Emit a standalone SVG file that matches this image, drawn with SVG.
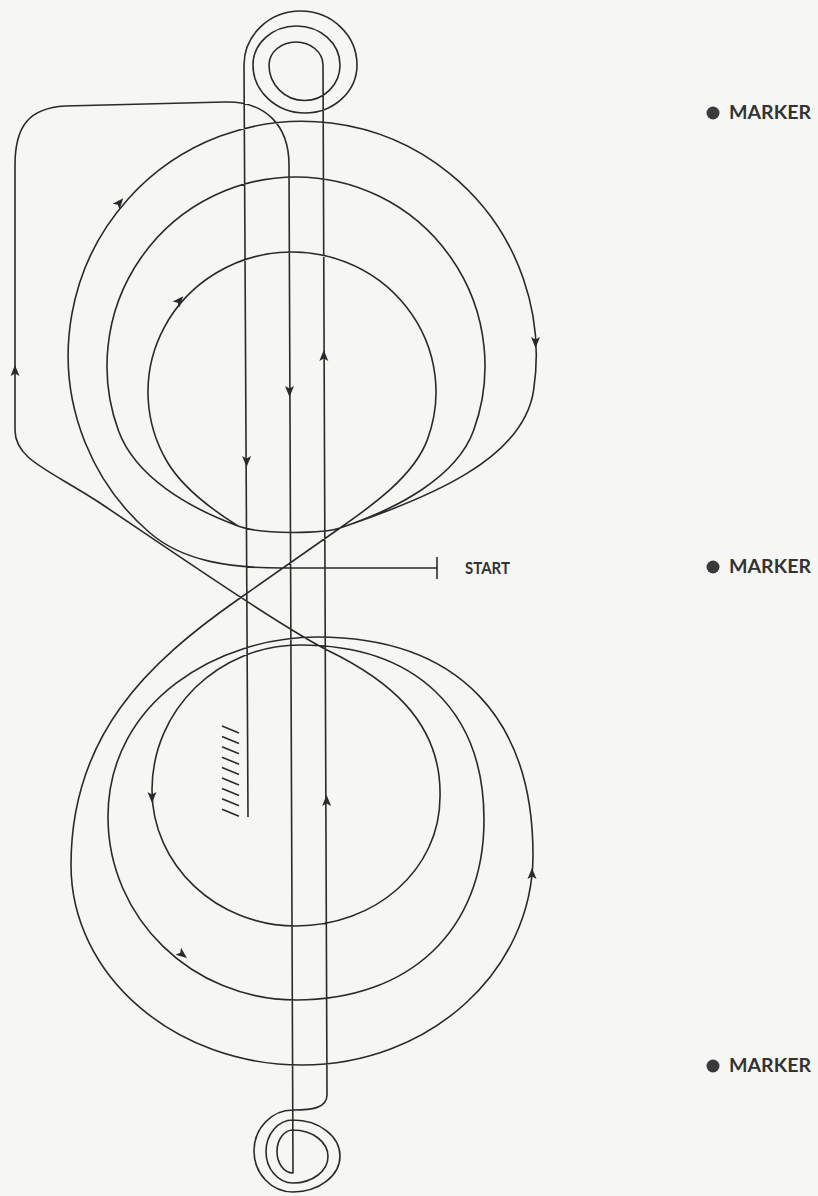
<svg xmlns="http://www.w3.org/2000/svg" xmlns:xlink="http://www.w3.org/1999/xlink" width="818" height="1196" viewBox="0 0 818 1196">
<style>
.trk{fill:none;stroke:#2a2a2a;stroke-width:1.6;stroke-linejoin:round;stroke-linecap:butt}
.lbl{font-family:Lato,"Liberation Sans",sans-serif;font-weight:bold;fill:#333}
.ah{fill:#2a2a2a}
.dot{fill:#3a3a3a}
</style>
<defs>
<path id="ah" d="M5,0 L-6,-4.5 L-3.5,0 L-6,4.5 Z"/>
</defs>
<rect width="818" height="1196" fill="#f6f6f4"/>
<g id="connectors">
<path id="track" class="trk" d="M 437 568 L 282 568 C 232 568 184 562 150 533 A 234 234 0 1 1 533.7 389.6 C 524 459 430 497.6 340 528 C 324 533.5 262 535 238 526 C 189.5 508 135.5 477.6 118.4 430.6 A 189 189 0 1 1 473.6 430.6 C 456.5 477.6 397 508.8 340 528 C 324 533.5 262 535 238 526 C 212.5 510 182.6 487.8 167.3 462 A 144 140 0 1 1 427.3 439.9 C 413.3 477.3 368.7 507.9 340 528 L 238 599.5 C 147.8 662.7 71 735 71 865 C 71 975.5 174.4 1065 302 1065 C 429.6 1065 533 971 533 855 C 533 720 460 637 317 637 C 220 637 108 700 108 817 C 108 918 192.2 1000 296 1000 C 410 1000 484 930 484 820 C 484 710 415 645 300 645 C 218.3 645 152 710 152 790 C 152 865 216.5 926 296 926 C 375.5 926 440 869.6 440 797 C 442 720 385 678 327 650 C 280 626 170 550 100 503 C 50 470 15 460 15 430 L 15 165 C 15 125 30 108 65 106 L 225 102 C 265 101 289 125 289 165 L 293 1173 A 16 21.5 0 0 1 293 1130 A 35 26.5 0 0 1 293 1183 A 27 31.5 0 0 1 293 1120 A 47 36 0 0 1 293 1192 A 39 41 0 0 1 293 1110 C 312 1110 327 1108 327 1095 L 323 65 A 27 23 0 0 0 269 65 A 35.5 35.5 0 0 0 340 65 A 43.5 39 0 0 0 253 65 A 52 48 0 0 0 357 65 A 56.5 54 0 0 0 244 65 L 248 817"/>
<line class="trk" x1="437" y1="557" x2="437" y2="579"/>
<g id="buffer" class="trk">
<line x1="222" y1="726" x2="239" y2="733"/>
<line x1="222" y1="736.4" x2="239" y2="743.4"/>
<line x1="222" y1="746.8" x2="239" y2="753.8"/>
<line x1="222" y1="757.2" x2="239" y2="764.2"/>
<line x1="222" y1="767.6" x2="239" y2="774.6"/>
<line x1="222" y1="778" x2="239" y2="785"/>
<line x1="222" y1="788.4" x2="239" y2="795.4"/>
<line x1="222" y1="798.8" x2="239" y2="805.8"/>
<line x1="222" y1="809.2" x2="239" y2="816.2"/>
</g>
<g id="arrows" class="ah">
<use xlink:href="#ah" transform="translate(120,202) rotate(-49.5)"/>
<use xlink:href="#ah" transform="translate(180,300) rotate(-49.3)"/>
<use xlink:href="#ah" transform="translate(535.5,343) rotate(90)"/>
<use xlink:href="#ah" transform="translate(15,370) rotate(-90)"/>
<use xlink:href="#ah" transform="translate(289.5,392) rotate(90)"/>
<use xlink:href="#ah" transform="translate(323.8,355) rotate(-90)"/>
<use xlink:href="#ah" transform="translate(246.6,462) rotate(90)"/>
<use xlink:href="#ah" transform="translate(152,798) rotate(90)"/>
<use xlink:href="#ah" transform="translate(326.6,800) rotate(-90)"/>
<use xlink:href="#ah" transform="translate(532,873) rotate(-90)"/>
<use xlink:href="#ah" transform="translate(183,955) rotate(38)"/>
</g>
</g>
<g id="start">
<text class="lbl" x="465" y="574" font-size="17" textLength="45" lengthAdjust="spacingAndGlyphs">START</text>
</g>
<g id="marker1">
<circle class="dot" cx="713" cy="113" r="6.5"/>
<text class="lbl" x="729" y="119" font-size="18" textLength="82" lengthAdjust="spacingAndGlyphs">MARKER</text>
</g>
<g id="marker2">
<circle class="dot" cx="713" cy="567" r="6.5"/>
<text class="lbl" x="729" y="573" font-size="18" textLength="82" lengthAdjust="spacingAndGlyphs">MARKER</text>
</g>
<g id="marker3">
<circle class="dot" cx="713" cy="1066" r="6.5"/>
<text class="lbl" x="729" y="1072" font-size="18" textLength="82" lengthAdjust="spacingAndGlyphs">MARKER</text>
</g>
</svg>
